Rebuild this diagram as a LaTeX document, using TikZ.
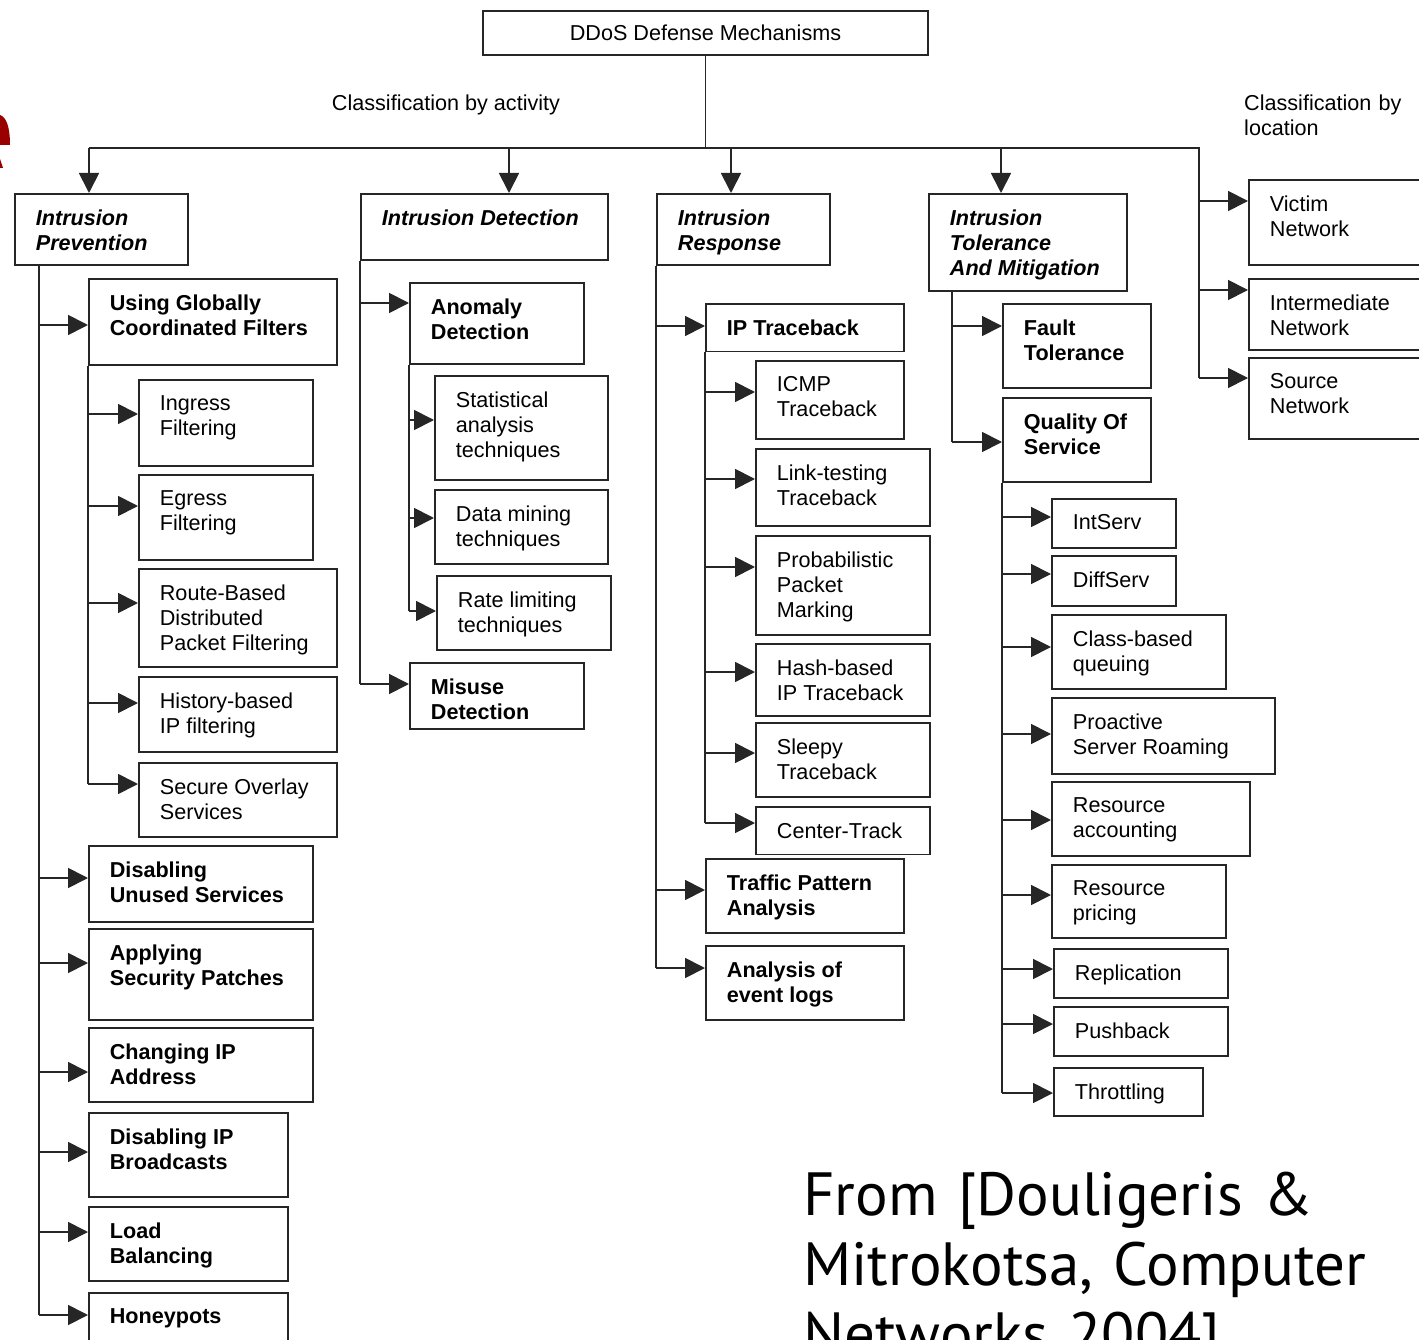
\documentclass[tikz,border=0pt]{standalone}
\usepackage{fontspec}
\setmainfont{Liberation Sans}
\newfontfamily\citefont{PT Sans}
\usepackage{tikz}
\usetikzlibrary{arrows.meta}
\definecolor{slidered}{HTML}{990000}

% box with top-left corner (#3,#4), bottom-right corner (#5,#6), arrow entry at height #7
\newcommand{\dbox}[8][leaf]{%
  \pgfmathsetmacro{\bxw}{#5-#3}%
  \pgfmathsetmacro{\bxt}{#5-#3-42}%
  \pgfmathsetmacro{\bxh}{#6-#4-32}%
  \node[#1, anchor=north west, minimum width=\bxw] (#2) at (#3,#4)
    {\parbox[t][\bxh pt][t]{\bxt pt}{\raggedright #8}};
  \coordinate (#2-in) at (#3,#7);
}

\begin{document}
\begin{tikzpicture}[x=1pt, y=-1pt,
    every node/.style={font=\fontsize{21.6}{25}\selectfont},
    box/.style={draw=black!85, line width=1.8pt, fill=white, inner xsep=21pt, inner ysep=16pt},
    cat/.style={box, font=\fontsize{21.6}{25}\selectfont\bfseries\itshape},
    sub/.style={box, font=\fontsize{21.6}{25}\selectfont\bfseries},
    leaf/.style={box},
    wire/.style={line width=1.8pt, draw=black!85},
    arr/.style={wire, -{Triangle[length=20pt, width=20pt]}},
    note/.style={inner sep=0pt, align=left}
]
    \useasboundingbox (0,0) rectangle (1419,1340);
    \clip (0,0) rectangle (1419,1340);

    % cut-off slide letter
    \fill[slidered] (0,115) .. controls (6,117) and (10,126) .. (10,145) -- (0,145) -- cycle;
    \fill[slidered] (0,159) -- (3,168) -- (0,168) -- cycle;

    % root
    \node[box, minimum width=445pt, minimum height=44pt, inner sep=0pt] (ddos) at (705.5,33) {DDoS Defense Mechanisms};
    \node[note, anchor=base] (byact) at (446,110.7) {Classification by activity};
    \node[note, anchor=base west, text width=200pt] (byloc) at (1244,110.7) {Classification by\\location};

    % classification by activity
    \dbox[cat]{ip}{14}{193}{187}{264}{0}{Intrusion\\Prevention}
    \dbox[cat]{idt}{360}{193}{607}{259}{0}{Intrusion Detection}
    \dbox[cat]{ir}{656}{193}{829}{264}{0}{Intrusion\\Response}
    \dbox[cat]{itm}{928}{193}{1126}{290}{0}{Intrusion\\Tolerance\\And Mitigation}

    % classification by location
    \dbox{vic}{1248}{179}{1440}{264}{201}{Victim\\Network}
    \dbox{inter}{1248}{278}{1440}{349}{290}{Intermediate\\Network}
    \dbox{src}{1248}{357}{1440}{438}{378}{Source\\Network}

    % prevention
    \dbox[sub]{ugcf}{88}{278}{336}{364}{325}{Using Globally\\Coordinated Filters}
    \dbox{ingress}{138}{379}{312}{465}{414}{Ingress\\Filtering}
    \dbox{egress}{138}{474}{312}{559}{506}{Egress\\Filtering}
    \dbox{route}{138}{568}{336}{666}{603}{Route-Based\\Distributed\\Packet Filtering}
    \dbox{history}{138}{676}{336}{751}{703}{History-based\\IP filtering}
    \dbox{sos}{138}{762}{336}{836}{784}{Secure Overlay\\Services}
    \dbox[sub]{dus}{88}{845}{312}{921}{878}{Disabling\\Unused Services}
    \dbox[sub]{asp}{88}{928}{312}{1019}{963}{Applying\\Security Patches}
    \dbox[sub]{cip}{88}{1027}{312}{1101}{1072}{Changing IP\\Address}
    \dbox[sub]{dib}{88}{1112}{287}{1196}{1152}{Disabling IP\\Broadcasts}
    \dbox[sub]{lb}{88}{1206}{287}{1280}{1232}{Load\\Balancing}
    \dbox[sub]{hp}{88}{1292}{287}{1370}{1315}{Honeypots}

    % detection
    \dbox[sub]{ad}{409}{282}{583}{363}{303}{Anomaly\\Detection}
    \dbox{sat}{434}{375}{607}{479}{420}{Statistical\\analysis\\techniques}
    \dbox{dm}{434}{489}{607}{563}{518}{Data mining\\techniques}
    \dbox{rl}{436}{575}{610}{649}{611}{Rate limiting\\techniques}
    \dbox[sub]{md}{409}{662}{583}{728}{684}{Misuse\\Detection}

    % response
    \dbox[sub]{ipt}{705}{303}{903}{347}{326}{IP Traceback}
    \dbox{icmp}{755}{360}{903}{438}{392}{ICMP\\Traceback}
    \dbox{ltt}{755}{448}{929}{525}{479}{Link-testing\\Traceback}
    \dbox{ppm}{755}{535}{929}{634}{567}{Probabilistic\\Packet\\Marking}
    \dbox{hash}{755}{643}{929}{715}{672}{Hash-based\\IP Traceback}
    \dbox{sleepy}{755}{722}{929}{796}{753}{Sleepy\\Traceback}
    \dbox{ct}{755}{806}{929}{850}{823}{Center-Track}
    \dbox[sub]{tpa}{705}{858}{903}{932}{890}{Traffic Pattern\\Analysis}
    \dbox[sub]{aoel}{705}{945}{903}{1019}{968}{Analysis of\\event logs}

    % tolerance and mitigation
    \dbox[sub]{ft}{1002}{303}{1150}{387}{326}{Fault\\Tolerance}
    \dbox[sub]{qos}{1002}{397}{1150}{481}{442}{Quality Of\\Service}
    \dbox{intserv}{1051}{498}{1175}{547}{517}{IntServ}
    \dbox{diffserv}{1051}{555}{1175}{605}{574}{DiffServ}
    \dbox{cbq}{1051}{614}{1225}{688}{647}{Class-based\\queuing}
    \dbox{psr}{1051}{697}{1274}{773}{734}{Proactive\\Server Roaming}
    \dbox{racc}{1051}{781}{1249}{855}{820}{Resource\\accounting}
    \dbox{rpr}{1051}{864}{1225}{937}{895}{Resource\\pricing}
    \dbox{repl}{1053}{948}{1227}{997}{969}{Replication}
    \dbox{push}{1053}{1006}{1227}{1055}{1024}{Pushback}
    \dbox{thr}{1053}{1067}{1202}{1115}{1093}{Throttling}

    % top level wiring
    \coordinate (trunk) at (ddos.south |- 0,148);
    \coordinate (ipdrop) at (89,148);
    \coordinate (iddrop) at (509,148);
    \coordinate (irdrop) at (731,148);
    \coordinate (itmdrop) at (1001,148);
    \coordinate (locbus) at (1199,148);
    \draw[wire] (ddos.south) -- (trunk);
    \draw[wire] (ipdrop) -- (locbus) -- (locbus |- src-in);
    \foreach \d/\n in {ipdrop/ip, iddrop/idt, irdrop/ir, itmdrop/itm}
        \draw[arr] (\d) -- (\d |- \n.north);
    \foreach \n in {vic, inter, src}
        \draw[arr] (locbus |- \n-in) -- (\n-in);

    % prevention buses
    \coordinate (ipbus) at (ip.south west -| 39,0);
    \draw[wire] (ipbus) -- (ipbus |- hp-in);
    \foreach \n in {ugcf, dus, asp, cip, dib, lb, hp}
        \draw[arr] (ipbus |- \n-in) -- (\n-in);
    \draw[wire] (ugcf.south west) -- (ugcf.south west |- sos-in);
    \foreach \n in {ingress, egress, route, history, sos}
        \draw[arr] (ugcf.south west |- \n-in) -- (\n-in);

    % detection buses
    \draw[wire] (idt.south west) -- (idt.south west |- md-in);
    \foreach \n in {ad, md}
        \draw[arr] (idt.south west |- \n-in) -- (\n-in);
    \draw[wire] (ad.south west) -- (ad.south west |- rl-in);
    \foreach \n in {sat, dm, rl}
        \draw[arr] (ad.south west |- \n-in) -- (\n-in);

    % response buses
    \draw[wire] (ir.south west) -- (ir.south west |- aoel-in);
    \foreach \n in {ipt, tpa, aoel}
        \draw[arr] (ir.south west |- \n-in) -- (\n-in);
    \draw[wire] (ipt.south west) -- (ipt.south west |- ct-in);
    \foreach \n in {icmp, ltt, ppm, hash, sleepy, ct}
        \draw[arr] (ipt.south west |- \n-in) -- (\n-in);

    % tolerance buses
    \coordinate (itmbus) at (itm.south west -| 952,0);
    \draw[wire] (itmbus) -- (itmbus |- qos-in);
    \foreach \n in {ft, qos}
        \draw[arr] (itmbus |- \n-in) -- (\n-in);
    \draw[wire] (qos.south west) -- (qos.south west |- thr-in);
    \foreach \n in {intserv, diffserv, cbq, psr, racc, rpr, repl, push, thr}
        \draw[arr] (qos.south west |- \n-in) -- (\n-in);

    % source
    \node[note, anchor=base west, text width=640pt, font=\citefont\fontsize{61}{70}\selectfont] (cite) at (803,1215)
        {From [Douligeris \&\\Mitrokotsa, Computer\\Networks 2004]};
\end{tikzpicture}
\end{document}
